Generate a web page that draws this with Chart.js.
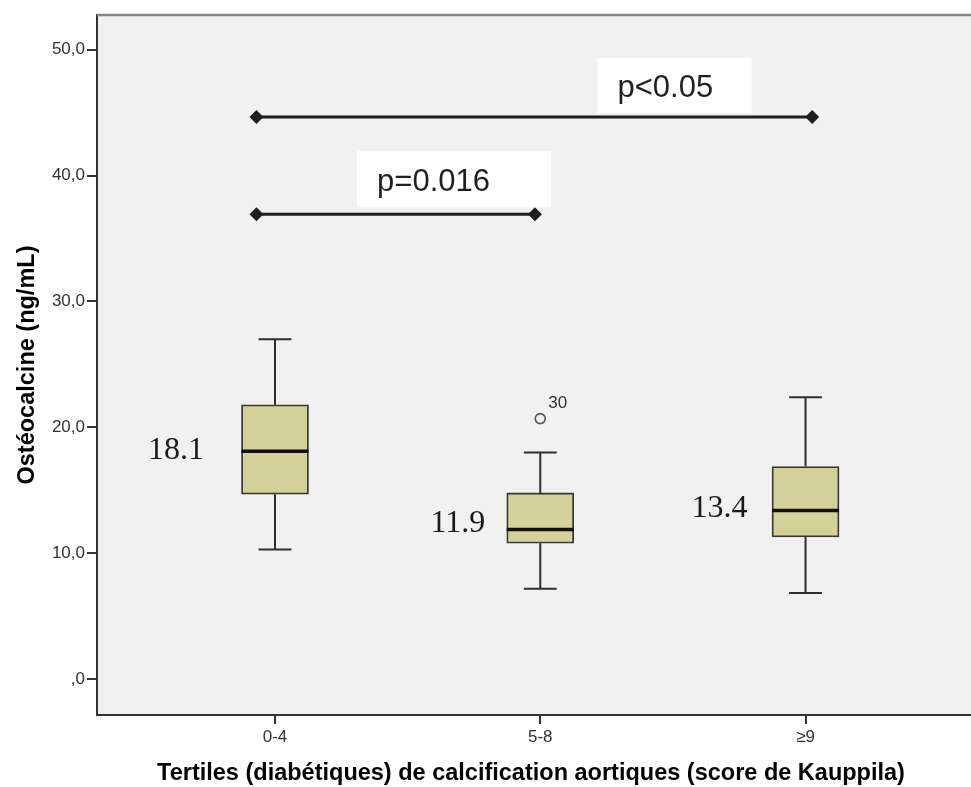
<!DOCTYPE html>
<html>
<head>
<meta charset="utf-8">
<script src="https://cdn.jsdelivr.net/npm/chart.js@4.4.0/dist/chart.umd.min.js"></script>
<style>
  html, body { margin: 0; padding: 0; background: #fff; overflow: hidden; }
  #wrap { width: 990px; height: 787px; }
</style>
</head>
<body>
<div id="wrap"><canvas id="chart-box" width="990" height="787"></canvas></div>
<script>
// Ostéocalcine par tertile de calcification aortique — box plot (SPSS style)

const categories  = ['0-4', '5-8', '≥9'];
const whiskerLow  = [10.3, 7.2, 6.85];
const q1          = [14.7, 10.8, 11.3];
const median      = [18.1, 11.9, 13.4];
const q3          = [21.8, 14.8, 16.9];
const whiskerHigh = [27.0, 18.0, 22.4];

const outlierCat  = [2];        // 1-based category index
const outlierVal  = [20.7];
const outlierCase = ['30'];

const yTicks      = [0, 10, 20, 30, 40, 50];
const yTickLabels = [',0', '10,0', '20,0', '30,0', '40,0', '50,0'];

// significance brackets (x in category units)
const sigFrom  = [0.93, 0.93];
const sigTo    = [3.025, 1.98];
const sigLevel = [44.66, 36.93];
const sigText  = ['p<0.05', 'p=0.016'];

// ── style ───────────────────────────────────────────────────────────────
const SANS = '"Liberation Sans", Arial, sans-serif';
const SERIF = '"Liberation Serif", "Times New Roman", serif';
const BOX_HALF = 0.1263;   // half box width, category units
const CAP_HALF = 0.062;
const MEDIAN_LABEL_OFF = [[-71, 8], [-55, 3], [-58, 6]];   // px, right-aligned
const P_BOX = [                                              // px around text anchor
  { cx: 2.506, cy: 47.15, w: 154, h: 55 },
  { cx: 1.675, cy: 39.71, w: 194, h: 56 },
];

const whiskerPts = [];
const medianPts = [];
categories.forEach((c, i) => {
  const x = i + 1;
  whiskerPts.push(
    { x, y: q3[i] }, { x, y: whiskerHigh[i] }, { x, y: null },
    { x, y: q1[i] }, { x, y: whiskerLow[i] }, { x, y: null },
    { x: x - CAP_HALF, y: whiskerHigh[i] }, { x: x + CAP_HALF, y: whiskerHigh[i] }, { x, y: null },
    { x: x - CAP_HALF, y: whiskerLow[i] }, { x: x + CAP_HALF, y: whiskerLow[i] }, { x, y: null },
  );
  medianPts.push({ x: x - BOX_HALF, y: median[i] }, { x: x + BOX_HALF, y: median[i] }, { x, y: null });
});

const datasets = [
  { type: 'line', data: medianPts, borderColor: '#111', borderWidth: 3.5, borderCapStyle: 'butt',
    pointRadius: 0, spanGaps: false, order: 0 },
  { type: 'bar', data: categories.map((c, i) => ({ x: i + 1, y: [q1[i], q3[i]] })),
    barThickness: 67, backgroundColor: '#d4d099', borderColor: '#363636', borderWidth: 1.8,
    borderSkipped: false, order: 1 },
  { type: 'line', data: whiskerPts, borderColor: '#2e2e2e', borderWidth: 2, borderCapStyle: 'butt',
    pointRadius: 0, spanGaps: false, order: 2 },
  { type: 'line', data: outlierVal.map((v, i) => ({ x: outlierCat[i], y: v })), showLine: false,
    pointStyle: 'circle', pointRadius: 5, pointBorderWidth: 1.6, pointBorderColor: '#555',
    pointBackgroundColor: 'rgba(0,0,0,0)', order: 0 },
];
sigLevel.forEach((lev, i) => {
  datasets.push({ type: 'line', data: [{ x: sigFrom[i], y: lev }, { x: sigTo[i], y: lev }],
    borderColor: '#1e1e1e', borderWidth: 3, pointStyle: 'rectRot', pointRadius: 7,
    pointBackgroundColor: '#1e1e1e', pointBorderWidth: 0, order: 0 });
});

const decor = {
  id: 'decor',
  beforeDraw(chart) {
    const { ctx, chartArea: a } = chart;
    ctx.save();
    ctx.fillStyle = '#f0f1f0';
    ctx.fillRect(a.left, a.top, a.right - a.left, a.bottom - a.top);
    ctx.restore();
  },
  afterDatasetsDraw(chart) {
    const { ctx, scales: { x, y } } = chart;
    ctx.save();
    // median values
    ctx.fillStyle = '#1a1a1a';
    ctx.font = `32px ${SERIF}`;
    ctx.textAlign = 'right';
    ctx.textBaseline = 'alphabetic';
    median.forEach((m, i) => {
      const [dx, dy] = MEDIAN_LABEL_OFF[i];
      ctx.fillText(m.toFixed(1), x.getPixelForValue(i + 1) + dx, y.getPixelForValue(m) + dy);
    });
    // outlier case numbers
    ctx.fillStyle = '#333';
    ctx.font = `17px ${SANS}`;
    ctx.textAlign = 'left';
    outlierVal.forEach((v, i) => {
      ctx.fillText(outlierCase[i], x.getPixelForValue(outlierCat[i]) + 8, y.getPixelForValue(v) - 11);
    });
    // p-value boxes
    ctx.font = `31px ${SANS}`;
    sigText.forEach((t, i) => {
      const b = P_BOX[i];
      const cx = x.getPixelForValue(b.cx), cy = y.getPixelForValue(b.cy);
      const left = cx - b.w / 2, top = cy - b.h / 2;
      ctx.fillStyle = '#fff';
      ctx.fillRect(left, top, b.w, b.h);
      ctx.fillStyle = '#231f20';
      ctx.fillText(t, left + 20, top + b.h - 16.5);
    });
    ctx.restore();
  },
  afterDraw(chart) {
    const { ctx, chartArea: a } = chart;
    ctx.save();
    ctx.strokeStyle = '#858585';
    ctx.lineWidth = 2.5;
    ctx.beginPath();
    ctx.moveTo(a.left, a.top);
    ctx.lineTo(a.right, a.top);
    ctx.stroke();
    ctx.fillStyle = '#000';
    ctx.font = `bold 23.5px ${SANS}`;
    ctx.textAlign = 'center';
    ctx.textBaseline = 'middle';
    ctx.fillText('Tertiles (diabétiques) de calcification aortiques (score de Kauppila)', 531, 774);
    ctx.restore();
  },
};

new Chart(document.getElementById('chart-box'), {
  type: 'bar',
  data: { datasets },
  options: {
    responsive: false, animation: false, events: [],
    layout: { padding: { top: 15, right: 7, left: 0, bottom: 0 } },
    plugins: { legend: { display: false }, tooltip: { enabled: false } },
    scales: {
      x: {
        type: 'linear', min: 0.329, max: 3.669, offset: false,
        afterBuildTicks: s => { s.ticks = categories.map((c, i) => ({ value: i + 1 })); },
        afterFit: s => { s.height = 72; },
        ticks: { callback: (v, i) => categories[i], color: '#333', font: { family: SANS, size: 17 }, padding: 3, maxRotation: 0 },
        grid: { offset: false, drawOnChartArea: false, tickLength: 9, color: '#333', lineWidth: 2 },
        border: { color: '#333', width: 2 },
      },
      y: {
        type: 'linear', min: -2.835, max: 52.75,
        afterBuildTicks: s => { s.ticks = yTicks.map(v => ({ value: v })); },
        afterFit: s => { s.width = 97; },
        ticks: { callback: (v, i) => yTickLabels[i], color: '#333', font: { family: SANS, size: 17 }, padding: 2 },
        grid: { drawOnChartArea: false, tickLength: 10, color: '#333', lineWidth: 2 },
        border: { color: '#333', width: 2 },
        title: { display: true, text: 'Ostéocalcine (ng/mL)', color: '#000',
          font: { family: SANS, size: 23.5, weight: 'bold' }, padding: { top: 13, bottom: 0 } },
      },
    },
  },
  plugins: [decor],
});
</script>
</body>
</html>
